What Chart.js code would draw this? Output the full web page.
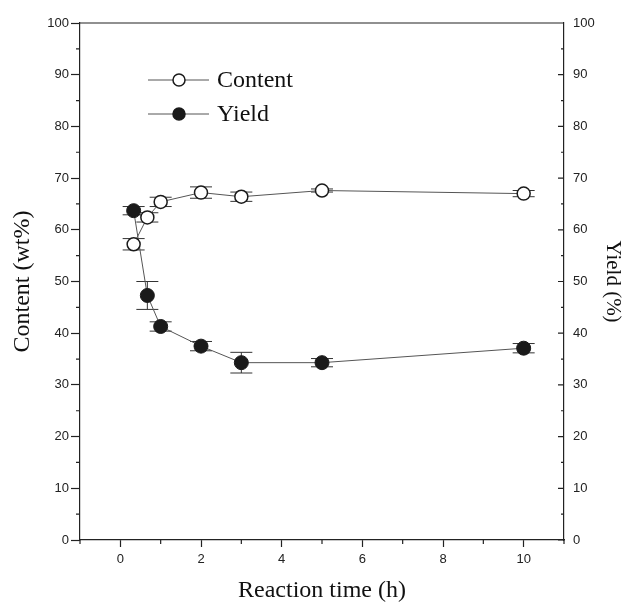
<!DOCTYPE html>
<html>
<head>
<meta charset="utf-8">
<script src="https://cdn.jsdelivr.net/npm/chart.js@4.4.1/dist/chart.umd.min.js"></script>
<style>
  body { margin: 0; background: #fff; }
  canvas { display: block; }
</style>
</head>
<body>
<canvas id="chart" width="624" height="604"></canvas>
<script>
// reaction time (h)
var times = [0.33, 0.67, 1, 2, 3, 5, 10];
// content (wt%), open circles
var content = [57.2, 62.4, 65.4, 67.2, 66.4, 67.6, 67.0];
var contentErr = [1.1, 0.9, 0.9, 1.1, 0.9, 0.3, 0.6];
// yield (%), filled circles
var yieldVals = [63.7, 47.3, 41.3, 37.5, 34.3, 34.3, 37.1];
var yieldErr = [0.8, 2.7, 0.9, 0.9, 2.0, 0.8, 0.9];
var xTicks = [0, 2, 4, 6, 8, 10];

var axisColor = '#222';
var lineColor = '#555';
var sans = 'Liberation Sans, Arial, sans-serif';
var serif = 'Liberation Serif, Times New Roman, serif';

function pts(ys) {
  return times.map(function (t, i) { return { x: t, y: ys[i] }; });
}

// vertical error bars with caps, drawn under the markers
var errorBars = {
  id: 'errorBars',
  beforeDatasetsDraw: function (chart) {
    var ctx = chart.ctx;
    ctx.save();
    ctx.strokeStyle = '#333';
    ctx.lineWidth = 1;
    chart.data.datasets.forEach(function (ds, di) {
      var meta = chart.getDatasetMeta(di);
      var xs = chart.scales[meta.xAxisID];
      var ys = chart.scales[meta.yAxisID];
      ds.data.forEach(function (p, i) {
        var e = ds.errors[i];
        var px = xs.getPixelForValue(p.x);
        var top = ys.getPixelForValue(p.y + e);
        var bot = ys.getPixelForValue(p.y - e);
        ctx.beginPath();
        ctx.moveTo(px, top); ctx.lineTo(px, bot);
        ctx.moveTo(px - 11, top); ctx.lineTo(px + 11, top);
        ctx.moveTo(px - 11, bot); ctx.lineTo(px + 11, bot);
        ctx.stroke();
      });
    });
    ctx.restore();
  }
};

// frame, minor ticks, inward right ticks and the inset legend
var decorations = {
  id: 'decorations',
  afterDraw: function (chart) {
    var ctx = chart.ctx;
    var a = chart.chartArea;
    var x = chart.scales.x, y = chart.scales.y, y2 = chart.scales.y2;
    ctx.save();
    ctx.strokeStyle = axisColor;
    ctx.lineWidth = 1.2;
    ctx.beginPath();
    ctx.moveTo(a.left, a.top); ctx.lineTo(a.right, a.top);
    for (var v = 5; v < 100; v += 10) {
      var py = y.getPixelForValue(v);
      ctx.moveTo(a.left - 4, py); ctx.lineTo(a.left, py);
    }
    for (var w = 0; w <= 100; w += 5) {
      var py2 = y2.getPixelForValue(w);
      ctx.moveTo(a.right - (w % 10 === 0 ? 6 : 3), py2); ctx.lineTo(a.right, py2);
    }
    for (var t = -1; t <= 11; t += 2) {
      var px = x.getPixelForValue(t);
      ctx.moveTo(px, a.bottom); ctx.lineTo(px, a.bottom + 4);
    }
    ctx.stroke();

    // legend
    chart.data.datasets.forEach(function (ds, i) {
      var ly = a.top + 57 + i * 34;
      var lx = a.left + 68;
      ctx.strokeStyle = lineColor;
      ctx.lineWidth = 1;
      ctx.beginPath();
      ctx.moveTo(lx, ly); ctx.lineTo(lx + 61, ly);
      ctx.stroke();
      ctx.beginPath();
      ctx.arc(lx + 31, ly, 6, 0, Math.PI * 2);
      ctx.fillStyle = ds.pointBackgroundColor;
      ctx.fill();
      ctx.strokeStyle = ds.pointBorderColor;
      ctx.lineWidth = 1.5;
      ctx.stroke();
      ctx.fillStyle = '#111';
      ctx.font = '24px ' + serif;
      ctx.textBaseline = 'middle';
      ctx.fillText(ds.label, lx + 69, ly + 1);
    });
    ctx.restore();
  }
};

new Chart(document.getElementById('chart'), {
  type: 'line',
  data: {
    datasets: [
      {
        label: 'Content',
        data: pts(content),
        errors: contentErr,
        yAxisID: 'y',
        borderColor: lineColor,
        borderWidth: 1,
        pointRadius: 6.5,
        pointBackgroundColor: '#fff',
        pointBorderColor: '#1a1a1a',
        pointBorderWidth: 1.5
      },
      {
        label: 'Yield',
        data: pts(yieldVals),
        errors: yieldErr,
        yAxisID: 'y2',
        borderColor: lineColor,
        borderWidth: 1,
        pointRadius: 7,
        pointBackgroundColor: '#1a1a1a',
        pointBorderColor: '#1a1a1a',
        pointBorderWidth: 1
      }
    ]
  },
  options: {
    responsive: false,
    animation: false,
    layout: { padding: { top: 23, left: 0, right: 0, bottom: 0 } },
    plugins: { legend: { display: false }, tooltip: { enabled: false } },
    scales: {
      x: {
        type: 'linear',
        min: -1,
        max: 11,
        afterBuildTicks: function (axis) {
          axis.ticks = xTicks.map(function (v) { return { value: v }; });
        },
        afterFit: function (s) { s.height = 64; },
        border: { color: axisColor, width: 1.2 },
        grid: { drawOnChartArea: false, tickLength: 7, color: axisColor, tickWidth: 1.2 },
        ticks: { autoSkip: false, maxRotation: 0, padding: 5, color: axisColor, font: { family: sans, size: 13 } },
        title: { display: true, text: 'Reaction time (h)', color: '#111', font: { family: serif, size: 24, lineHeight: 1 }, padding: { top: 0, bottom: 1 } }
      },
      y: {
        position: 'left',
        min: 0,
        max: 100,
        ticks: { stepSize: 10, padding: 2, color: axisColor, font: { family: sans, size: 13 } },
        afterFit: function (s) { s.width = 80; },
        border: { color: axisColor, width: 1.2 },
        grid: { drawOnChartArea: false, tickLength: 9, color: axisColor, tickWidth: 1.2 },
        title: { display: true, text: 'Content (wt%)', color: '#111', font: { family: serif, size: 24, lineHeight: 1 }, padding: { top: 11, bottom: 0 } }
      },
      y2: {
        position: 'right',
        min: 0,
        max: 100,
        ticks: { stepSize: 10, padding: 9, color: axisColor, font: { family: sans, size: 13 } },
        afterFit: function (s) { s.width = 60; },
        border: { color: axisColor, width: 1.2 },
        grid: { drawOnChartArea: false, drawTicks: false },
        title: { display: true, text: 'Yield (%)', color: '#111', font: { family: serif, size: 21, lineHeight: 1 }, padding: { top: 1, bottom: 0 } }
      }
    }
  },
  plugins: [errorBars, decorations]
});
</script>
</body>
</html>
